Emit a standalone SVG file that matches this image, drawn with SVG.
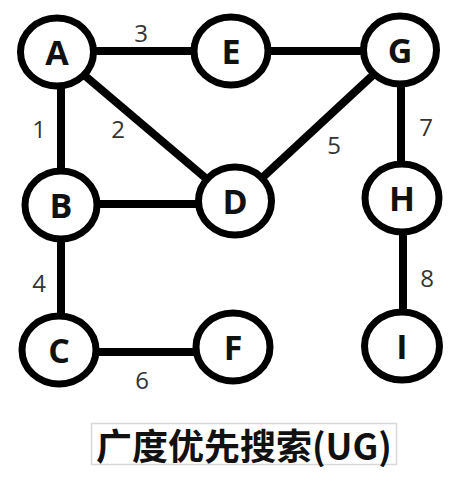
<svg xmlns="http://www.w3.org/2000/svg" width="465" height="478" viewBox="0 0 465 478">
<style>
.edge{stroke:#000;stroke-width:8;fill:none}
.node ellipse{fill:#fff;stroke:#000;stroke-width:7}
.node text{font-family:"Open Sans","Noto Sans","Liberation Sans",sans-serif;font-weight:700;font-size:34px;fill:#111;text-anchor:middle;dominant-baseline:central}
.lbl{font-family:"Open Sans","Noto Sans","Liberation Sans",sans-serif;font-size:24px;fill:#333;text-anchor:middle;dominant-baseline:central}
.title{font-family:"Noto Sans CJK SC","Noto Sans",sans-serif;font-weight:700;font-size:36px;fill:#111;text-anchor:middle;dominant-baseline:central}
</style>
<rect width="465" height="478" fill="#fff"/>
<g id="edges">
<line class="edge" x1="57" y1="51" x2="231" y2="51"/>
<line class="edge" x1="231" y1="51" x2="400" y2="51"/>
<line class="edge" x1="61" y1="52" x2="61" y2="204"/>
<line class="edge" x1="57" y1="52" x2="235" y2="203"/>
<line class="edge" x1="400" y1="50" x2="235" y2="203"/>
<line class="edge" x1="401" y1="50" x2="401" y2="199"/>
<line class="edge" x1="61" y1="204" x2="235" y2="204"/>
<line class="edge" x1="61" y1="204" x2="61" y2="350"/>
<line class="edge" x1="59" y1="352" x2="233" y2="352"/>
<line class="edge" x1="403" y1="199" x2="403" y2="346"/>
<text class="lbl" x="141" y="32">3</text>
<text class="lbl" x="39" y="128">1</text>
<text class="lbl" x="118" y="128">2</text>
<text class="lbl" x="334" y="144">5</text>
<text class="lbl" x="426" y="126">7</text>
<text class="lbl" x="39" y="282">4</text>
<text class="lbl" x="427" y="277">8</text>
<text class="lbl" x="142" y="379">6</text>
</g>
<g id="A" class="node"><ellipse cx="57" cy="52" rx="36.5" ry="34"/><text x="57" y="52">A</text></g>
<g id="E" class="node"><ellipse cx="231" cy="51" rx="37" ry="34"/><text x="231" y="51">E</text></g>
<g id="G" class="node"><ellipse cx="400" cy="50" rx="36.5" ry="34"/><text x="400" y="50">G</text></g>
<g id="B" class="node"><ellipse cx="61" cy="205" rx="36" ry="34"/><text x="61" y="205">B</text></g>
<g id="D" class="node"><ellipse cx="235" cy="201" rx="36.5" ry="34"/><text x="235" y="201">D</text></g>
<g id="H" class="node"><ellipse cx="402" cy="198" rx="37" ry="34"/><text x="402" y="198">H</text></g>
<g id="C" class="node"><ellipse cx="59" cy="350" rx="37" ry="34"/><text x="59" y="350">C</text></g>
<g id="F" class="node"><ellipse cx="233" cy="347" rx="37" ry="34"/><text x="233" y="347">F</text></g>
<g id="I" class="node"><ellipse cx="402" cy="346" rx="37.5" ry="34"/><text x="402" y="346">I</text></g>
<g id="title">
<rect x="91.5" y="423.5" width="305" height="41" fill="#fff" stroke="#d8d8d8" stroke-width="1.5"/>
<text class="title" x="244" y="444">广度优先搜索(UG)</text>
</g>
</svg>
